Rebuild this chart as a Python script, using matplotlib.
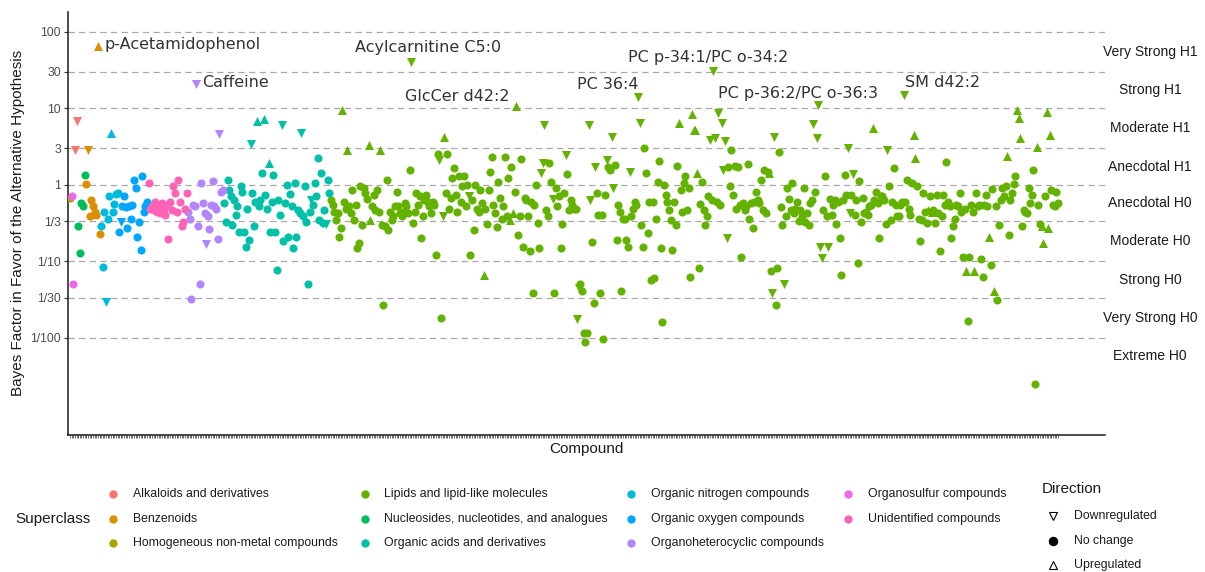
import numpy as np
import matplotlib
matplotlib.use("Agg")
import matplotlib.pyplot as plt
from matplotlib.lines import Line2D
from matplotlib.ticker import NullLocator
from matplotlib.transforms import blended_transform_factory

# superclass names in legend order, ggplot hue palette
SUPERCLASSES = [
    "Alkaloids and derivatives", "Benzenoids", "Homogeneous non-metal compounds",
    "Lipids and lipid-like molecules", "Nucleosides, nucleotides, and analogues",
    "Organic acids and derivatives", "Organic nitrogen compounds", "Organic oxygen compounds",
    "Organoheterocyclic compounds", "Organosulfur compounds", "Unidentified compounds",
]
COLORS = ["#F8766D", "#DB8E00", "#AEA200", "#64B200", "#00BD5C", "#00C1A7",
          "#00BADE", "#00A6FF", "#B385FF", "#EF67EB", "#FF63B6"]

# log10 Bayes factor per compound, in plotted order; direction: v down, o none, ^ up
homogeneous_bf = [-0.17]
homogeneous_dir = "o"
organosulfur_bf = [-0.14, -1.29]
organosulfur_dir = "oo"
alkaloid_bf = [0.45, 0.84]
alkaloid_dir = "vv"
nucleoside_bf = [-0.54, -0.89, -0.24, -0.27, 0.13]
nucleoside_dir = "ooooo"
benzenoid_bf = [0.01, 0.45, -0.41, -0.20, -0.28, -0.36, -0.39, 1.81, -0.64]
benzenoid_dir = "ovooooo^o"
org_nitrogen_bf = [-0.54, -1.07, -0.35, -1.53, -0.44, -0.15, 0.68, -0.36, -0.25, -0.12, -0.11]
org_nitrogen_dir = "ooovoo^oooo"
org_oxygen_bf = [-0.61, -0.48, -0.28, -0.15, -0.29, -0.57, -0.28, -0.44, -0.26, 0.06,
                 -0.04, -0.68, -0.48, -0.85, 0.12, -0.36, -0.28, -0.22]
org_oxygen_dir = "ov" + "o" * 16
unidentified_bf = [0.02, -0.31, -0.28, -0.33, -0.23, -0.35, -0.26, -0.37, -0.24, -0.31,
                   -0.39, -0.26, -0.71, -0.23, -0.33, -0.01, -0.11, -0.36, 0.07, -0.22,
                   -0.54, -0.48, -0.31, -0.11]
unidentified_dir = "o" * 24
heterocyclic_bf = [-0.35, -0.45, -1.49, -0.26, -0.28, 1.32, -0.54, -1.29, 0.03, -0.24,
                   -0.37, -0.77, -0.41, -0.58, -0.26, 0.05, -0.28, -0.31, -0.71, 0.66,
                   -0.09, -0.07]
heterocyclic_dir = "ooooovooooovooooooovoo"
org_acid_bf = [-0.24, -0.48, 0.07,
               -0.07, -0.15, -0.52, -0.20, -0.39, -0.28, -0.61, -0.01, -0.09, -0.61,
               -0.81, -0.31, -0.72, 0.54, -0.11, -0.54, -0.22, 0.83, -0.28, -0.20,
               0.16, 0.86, -0.13, -0.31, 0.28, -0.62, -0.22, 0.13, -0.62, -1.11,
               -0.20, -0.40, 0.78, -0.74, -0.24, 0.00, -0.68, -0.12, -0.28, -0.83,
               0.02, -0.68, -0.33, -0.37, 0.68, -0.41, -0.02, -0.48, -1.29, -0.35,
               -0.20, -0.26, 0.02, -0.15, 0.35, -0.46, 0.16, -0.50, -0.33, -0.51,
               0.07, -0.11]
org_acid_dir = ("ooo" + "oooooooooo" + "ooovooo^oo" + "o^oo^ooooo" + "oovooooooo"
                + "oooovooooo" + "voooooooov" + "oo")
lipid_bf = [
    -0.20, -0.26, -0.35, -0.46, -0.37, -0.68, -0.57, 0.98, -0.22, -0.31,
    0.46, -0.28, -0.37, -0.07, -0.46, -0.26, -0.83, -0.76, -0.02, -0.52,
    -0.04, -0.11, -0.19, 0.52, -0.46, -0.28, -0.13, -0.33, -0.07, -0.35,
    0.46, -0.52, -1.57, -0.54, 0.07, -0.59, -0.35, -0.46, -0.41, -0.28,
    -0.09, -0.28, -0.37, -0.41, -0.35, -0.24, -0.28, -0.37, 0.20, 1.61,
    -0.50, -0.36, -0.11, -0.26, -0.15, -0.70, -0.41, -0.20, -0.13, -0.22,
    -0.28, -0.37, -0.23, -0.26, -0.92, 0.41, 0.33, -1.74, -0.41, 0.63,
    -0.11, 0.41, -0.31, -0.17, 0.09, 0.22, -0.13, -0.35, 0.11, -0.23,
    -0.02, 0.12, -0.28, 0.00, -0.15, -0.92, -0.20, -0.59, 0.00, -0.32,
    -0.35, -0.07, -0.24, -1.18, -0.31, -0.51, -0.07, 0.17, 0.36, -0.26,
    -0.37, -0.55, 0.04, -0.17, -0.44, -0.28, 0.36, -0.41, 0.09, -0.46,
    0.24, -0.37, -0.09, 1.03, -0.65, -0.41, 0.34, -0.81, -0.17, -0.20,
    -0.41, -0.87, -0.22, -1.42, -0.26, 0.00, -0.50, -0.83, 0.15, 0.28,
    0.78, -0.33, -0.41, 0.28, 0.04, -0.19, -1.42, -0.04, -0.28, -0.15,
    -0.83, -0.51, -0.10, 0.39, 0.14, -0.33, -0.20, -0.26, -0.31, -0.31,
    -1.76, -1.35, -1.29, -1.39, -1.94, -2.05, -1.94, 0.78, -0.20, -0.75,
    -1.54, 0.24, -0.11, -0.39, -1.42, -0.39, -2.02, -0.13, 0.33, 0.24,
    0.20, 0.63, -0.04, 0.26, -0.72, -0.26, -0.36, -1.39, -0.44, -0.44,
    -0.72, -0.81, 0.17, -0.41, -0.31, -0.22, -0.26, 1.15, 0.81, -0.52,
    -0.81, 0.48, 0.16, -0.63, -0.22, -1.24, -0.22, -1.22, -0.44, 0.04,
    0.31, -0.83, -1.79, 0.00, -0.13, -0.22, -0.33, -0.46, -0.85, -0.22,
    -0.52, 0.25, 0.81, -0.07, -0.36, 0.02, 0.11, -0.33, -0.04, -1.20,
    0.92, 0.72, 0.72, 0.15, -1.09, -0.25, 0.04, -0.33, -0.52, -0.41,
    -0.15, 0.59, -0.20, 1.49, 0.61, -0.22, 0.94, -0.26, 0.81, 0.20,
    0.57, -0.70, 0.24, -0.02, 0.46, -0.13, 0.25, -0.31, 0.24, -0.26,
    -0.94, -0.24, -0.33, -0.28, 0.27, -0.44, -0.24, -0.57, -0.22, -0.09,
    -0.20, -0.24, 0.07, -0.33, 0.20, -0.37, 0.17, 0.15, -1.13, -1.42,
    0.63, -1.57, -1.09, 0.43, -0.29, -0.52, -1.29, -0.41, -0.04, -0.18,
    -0.33, 0.02, -0.37, -0.31, -0.22, -0.47, -0.33, -0.41, -0.04, -0.48,
    -0.37, -0.52, -0.24, -0.20, 0.79, -0.09, 0.61, 1.05, -0.81, -0.96,
    -0.33, 0.11, -0.41, -0.81, -0.18, -0.39, -0.26, -0.20, -0.51, -0.23,
    -0.70, -1.18, -0.20, 0.13, -0.13, 0.48, -0.37, -0.13, 0.14, -0.39,
    -0.20, -1.02, 0.05, -0.48, -0.17, -0.37, -0.35, -0.39, -0.28, -0.26,
    0.75, -0.20, -0.09, -0.24, -0.70, -0.15, -0.15, -0.20, -0.51, 0.46,
    -0.02, -0.46, -0.22, 0.22, -0.26, -0.41, -0.41, -0.26, -0.22, 1.18,
    -0.22, 0.07, -0.31, -0.39, 0.03, 0.65, 0.35, -0.02, -0.44, -0.73,
    -0.46, -0.11, -0.35, -0.50, -0.33, -0.15, -0.35, -0.33, -0.50, -0.13,
    -0.37, -0.87, -0.41, -0.13, -0.26, 0.30, -0.22, -0.28, -0.69, -0.54,
    -0.44, -0.26, -0.28, -0.10, -0.36, -0.94, -0.31, -1.13, -1.78, -0.94,
    -0.26, -0.36, -1.13, -0.10, -0.28, -0.26, -0.97, -1.21, -0.26, -0.13,
    -0.28, -0.68, -1.05, -0.06, -1.39, -0.28, -1.51, -0.52, -0.20, -0.04,
    -0.14, -0.02, 0.38, -0.65, -0.20, -0.11, 0.01, 0.12, 0.98, 0.88,
    0.61, -0.54, -0.33, -0.36, -0.37, -0.04, -0.24, -0.13, 0.20, -2.60,
    0.50, -0.26, -0.51, -0.54, -0.76, -0.14, 0.95, -0.57, 0.65, -0.07,
    -0.26, -0.28, -0.09, -0.24,
]
lipid_dir = (
    "ooooooo^oo" "^ooooooooo" "ooo^^ooooo" "^ooooooooo" "ooooooooov"
    "oooooooooo" "oooooovov^" "oooooooooo" "oooovooooo" "ooo^oooooo"
    "ooooooooo^" "o^o^oooooo" "oooooooovv" "voooovoooo" "ooovoooooo"
    "vvooooovvo" "ovoooooovo" "ovvooooooo" "oovoooovvo" "oooooooooo"
    "oooooooooo" "oo^ooooooo" "^^^^oooooo" "ovovvovovv" "vvoooooooo"
    "oooooooooo" "ooooooo^ov" "vooooovooo" "oooooooooo" "oooovovvvv"
    "ooovoooooo" "ooooovvovo" "oooooooooo" "^oooooooov" "ooooooooov"
    "ooooo^^ooo" "oooo^o^ooo" "oooooooooo" "ooooooo^oo" "oo^ooooooo"
    "o^oo^ooooo" "oo^ooooo^^" "^ooooooooo" "^oo^^o^^^o" "oooo"
)

blocks = [
    ("Homogeneous non-metal compounds", homogeneous_bf, homogeneous_dir),
    ("Organosulfur compounds", organosulfur_bf, organosulfur_dir),
    ("Alkaloids and derivatives", alkaloid_bf, alkaloid_dir),
    ("Nucleosides, nucleotides, and analogues", nucleoside_bf, nucleoside_dir),
    ("Benzenoids", benzenoid_bf, benzenoid_dir),
    ("Organic nitrogen compounds", org_nitrogen_bf, org_nitrogen_dir),
    ("Organic oxygen compounds", org_oxygen_bf, org_oxygen_dir),
    ("Unidentified compounds", unidentified_bf, unidentified_dir),
    ("Organoheterocyclic compounds", heterocyclic_bf, heterocyclic_dir),
    ("Organic acids and derivatives", org_acid_bf, org_acid_dir),
    ("Lipids and lipid-like molecules", lipid_bf, lipid_dir),
]

# labelled compounds: name, superclass, log10 BF
label_names = ["p-Acetamidophenol", "Caffeine", "Acylcarnitine C5:0", "GlcCer d42:2",
               "PC 36:4", "PC p-34:1/PC o-34:2", "PC p-36:2/PC o-36:3", "SM d42:2"]
label_classes = ["Benzenoids", "Organoheterocyclic compounds"] + ["Lipids and lipid-like molecules"] * 6
label_values = [1.81, 1.32, 1.61, 1.03, 1.15, 1.49, 1.05, 1.18]

ytick_vals = [100, 30, 10, 3, 1, 1 / 3, 1 / 10, 1 / 30, 1 / 100]
ytick_labels = ["100", "30", "10", "3", "1", "1/3", "1/10", "1/30", "1/100"]
evidence_labels = ["Very Strong H1", "Strong H1", "Moderate H1", "Anecdotal H1", "Anecdotal H0",
                   "Moderate H0", "Strong H0", "Very Strong H0", "Extreme H0"]
evidence_pos = [np.sqrt(3000), np.sqrt(300), np.sqrt(30), np.sqrt(3), np.sqrt(1 / 3),
                np.sqrt(1 / 30), np.sqrt(1 / 300), np.sqrt(1 / 3000), np.sqrt(1 / 30000)]

# ---- assemble
sc, vals, dirs = [], [], []
for name, v, d in blocks:
    assert len(v) == len(d), (name, len(v), len(d))
    sc += [name] * len(v)
    vals += v
    dirs += list(d)
sc = np.array(sc)
vals = np.array(vals)
dirs = np.array(dirs)
N = len(vals)
x = np.arange(N)
bf = 10.0 ** vals

W, H = 1205, 572
fig = plt.figure(figsize=(W / 100, H / 100), dpi=100)
plt.rcParams["font.family"] = ["Liberation Sans", "DejaVu Sans"]
ax = fig.add_axes([68 / W, 1 - 435 / H, (1105 - 68) / W, (435 - 12) / H])

def fx(px):
    return px / W

def fy(py):
    return 1 - py / H

for v in ytick_vals:
    ax.axhline(v, color="#A8A8A8", lw=0.9, dashes=(5, 3.5), zorder=1)

sizes = {"o": 34, "v": 42, "^": 42}
for name, color in zip(SUPERCLASSES, COLORS):
    for m in "ov^":
        mask = (sc == name) & (dirs == m)
        if mask.any():
            ax.scatter(x[mask], bf[mask], marker=m, s=sizes[m], c=color,
                       linewidths=0, zorder=3)

ax.set_yscale("log")
ax.set_ylim(10 ** -3.27, 10 ** 2.26)
ax.set_xlim(-1.2, N - 1 + 28.6)
ax.set_yticks(ytick_vals)
ax.set_yticklabels(ytick_labels)
ax.yaxis.set_minor_locator(NullLocator())
ax.set_xticks(x)
ax.set_xticklabels([])
ax.tick_params(axis="x", length=2.5, width=0.5, color="#333333")
ax.tick_params(axis="y", length=3, width=0.8, color="#333333", labelsize=8.8,
               labelcolor="#4D4D4D", pad=2)
for s in ["top", "right"]:
    ax.spines[s].set_visible(False)
for s in ["left", "bottom"]:
    ax.spines[s].set_linewidth(1.1)
    ax.spines[s].set_color("#1A1A1A")

# evidence category labels on the right
tr = blended_transform_factory(ax.transAxes, ax.transData)
xr = (1150 - 68) / (1105 - 68)
for lab, pos in zip(evidence_labels, evidence_pos):
    ax.text(xr, pos, lab, transform=tr, ha="center", va="center", fontsize=10,
            color="#1A1A1A", clip_on=False)

# compound labels (offsets in pixels)
label_offsets = [(7, 2), (6, 1), (17, 14), (-59, 10), (-30, 12), (-5, 13), (-20, 11), (39, 12)]
label_ha = ["left", "left", "center", "center", "center", "center", "center", "center"]
for name, cls, val, off, ha in zip(label_names, label_classes, label_values, label_offsets, label_ha):
    idx = np.where((sc == cls) & np.isclose(vals, val))[0][0]
    ax.annotate(name, xy=(idx, 10 ** val), xytext=off, textcoords="offset pixels",
                ha=ha, va="center", fontsize=11.5, family="DejaVu Sans", color="#333333",
                zorder=4)

fig.text(fx(18.5), fy(223), "Bayes Factor in Favor of the Alternative Hypothesis",
         rotation=90, ha="center", va="center", fontsize=11, color="#1A1A1A")
fig.text(fx(586.5), fy(449), "Compound", ha="center", va="center", fontsize=11, color="#1A1A1A")

# superclass legend
fig.text(fx(15), fy(519), "Superclass", ha="left", va="center", fontsize=11, color="#1A1A1A")
col_marker = [113, 365, 631, 848]
col_text = [133, 384, 651, 868]
row_y = [494, 519, 543]
for i, (name, color) in enumerate(zip(SUPERCLASSES, COLORS)):
    c, r = i // 3, i % 3
    fig.add_artist(Line2D([fx(col_marker[c])], [fy(row_y[r])], marker="o", ms=5,
                          mfc=color, mec=color, lw=0, transform=fig.transFigure))
    fig.text(fx(col_text[c]), fy(row_y[r]), name, ha="left", va="center",
             fontsize=8.8, color="#1A1A1A")

# direction legend
fig.text(fx(1042), fy(489), "Direction", ha="left", va="center", fontsize=11, color="#1A1A1A")
dir_items = [("v", "none", "Downregulated"), ("o", "black", "No change"), ("^", "none", "Upregulated")]
for (m, fc, lab), yy in zip(dir_items, [516, 541, 565]):
    fig.add_artist(Line2D([fx(1053)], [fy(yy)], marker=m, ms=6, mfc=fc, mec="black",
                          mew=0.8, lw=0, transform=fig.transFigure))
    fig.text(fx(1074), fy(yy), lab, ha="left", va="center", fontsize=8.8, color="#1A1A1A")

fig.savefig("out.png", dpi=100)
